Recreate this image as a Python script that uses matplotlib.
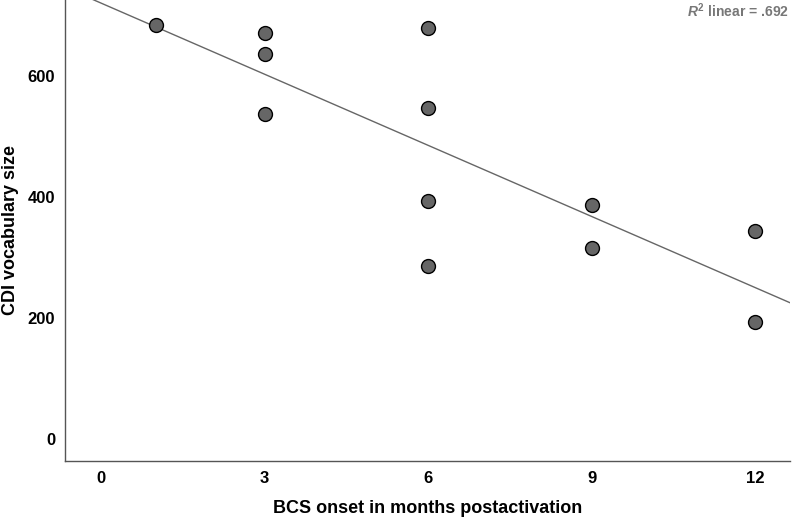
import numpy as np
import matplotlib
matplotlib.use("Agg")
import matplotlib.pyplot as plt

plt.rcParams['font.family'] = ['Liberation Sans', 'DejaVu Sans']
plt.rcParams['mathtext.fontset'] = 'custom'
plt.rcParams['mathtext.it'] = 'Liberation Sans:italic:bold'
plt.rcParams['mathtext.rm'] = 'Liberation Sans:bold'

# BCS onset (months) and CDI vocabulary size
onset = [1, 3, 3, 3, 6, 6, 6, 6, 9, 9, 12, 12]
vocab = [684, 671, 636, 537, 679, 547, 393, 286, 387, 316, 344, 193]
r2_text = ".692"

fig = plt.figure(figsize=(7.94, 5.2), dpi=100)
ax = fig.add_axes([0.0819, 0.1135, 0.913, 0.8865])

# regression line
slope, intercept = np.polyfit(onset, vocab, 1)
xlim = (-0.66, 12.64)
xs = np.array(xlim)
ax.plot(xs, intercept + slope * xs, color='#666666', lw=1, zorder=1)

ax.scatter(onset, vocab, s=100, color='#666666', edgecolors='black',
           linewidths=1, zorder=2)

ax.set_xlim(*xlim)
ax.set_ylim(-36, 726)
ax.set_xticks([0, 3, 6, 9, 12])
ax.set_yticks([0, 200, 400, 600])
ax.tick_params(length=0, labelsize=12, pad=7)
for lab in ax.get_xticklabels() + ax.get_yticklabels():
    lab.set_fontweight('bold')

for s in ['top', 'right']:
    ax.spines[s].set_visible(False)
for s in ['left', 'bottom']:
    ax.spines[s].set_color('#555555')
    ax.spines[s].set_linewidth(1)

ax.set_xlabel("BCS onset in months postactivation", fontsize=13,
              fontweight='bold', labelpad=10)
ax.set_ylabel("CDI vocabulary size", fontsize=13, fontweight='bold',
              labelpad=6)

ax.text(0.998, 0.997, r"$R^2$ linear = " + r2_text,
        transform=ax.transAxes, ha='right', va='top', fontsize=10,
        fontweight='bold', color='#777777')

fig.savefig("out.png", dpi=100)
